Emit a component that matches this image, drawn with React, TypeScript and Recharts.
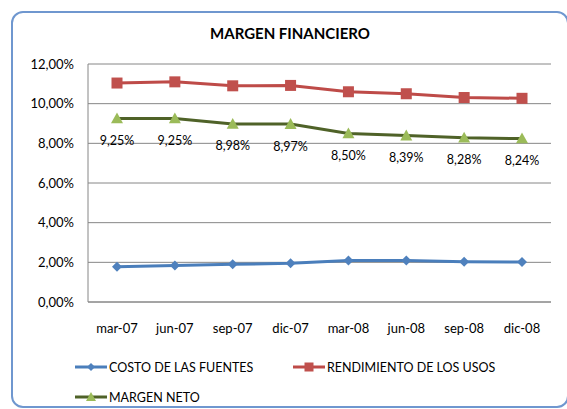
import { LineChart, Line, XAxis, YAxis, CartesianGrid, Legend, LabelList } from 'recharts';

const categories = ['mar-07', 'jun-07', 'sep-07', 'dic-07', 'mar-08', 'jun-08', 'sep-08', 'dic-08'];
const costoFuentes = [1.78, 1.84, 1.9, 1.95, 2.09, 2.09, 2.03, 2.02];
const rendimientoUsos = [11.04, 11.1, 10.9, 10.92, 10.6, 10.5, 10.31, 10.27];
const margenNeto = [9.25, 9.25, 8.98, 8.97, 8.5, 8.39, 8.28, 8.24];
const yTicks = [0, 2, 4, 6, 8, 10, 12];

const data = categories.map((c, i) => ({
  mes: c,
  costo: costoFuentes[i],
  rendimiento: rendimientoUsos[i],
  margen: margenNeto[i],
}));

const FONT = 'Lato, "Open Sans", sans-serif';
const pct = (v: number) => v.toFixed(2).replace('.', ',') + '%';

const Diamond = ({ cx, cy, s = 5, fill = '#4f81bd' }: any) => (
  <path d={`M${cx},${cy - s}L${cx + s},${cy}L${cx},${cy + s}L${cx - s},${cy}Z`} fill={fill} />
);
const Square = ({ cx, cy, s = 5.5, fill = '#c0504d' }: any) => (
  <rect x={cx - s} y={cy - s} width={s * 2} height={s * 2} fill={fill} />
);
const Triangle = ({ cx, cy, s = 6, fill = '#9bbb59' }: any) => (
  <path d={`M${cx},${cy - s}L${cx + s},${cy + s * 0.8}L${cx - s},${cy + s * 0.8}Z`} fill={fill} />
);

const legendItems = [
  { label: 'COSTO DE LAS FUENTES', color: '#4a7ebb', Mark: Diamond, ms: 4, left: 75, top: 0 },
  { label: 'RENDIMIENTO DE LOS USOS', color: '#be4b48', Mark: Square, ms: 4.5, left: 293, top: 0 },
  { label: 'MARGEN NETO', color: '#4f6228', Mark: Triangle, ms: 5, left: 75, top: 30 },
];

const renderLegend = () => (
  <div style={{ position: 'relative', height: 60, fontFamily: FONT }}>
    {legendItems.map((it) => (
      <div
        key={it.label}
        style={{ position: 'absolute', left: it.left, top: it.top + 10, height: 30, display: 'flex', alignItems: 'center' }}
      >
        <svg width={32} height={14}>
          <line x1={0} y1={7} x2={32} y2={7} stroke={it.color} strokeWidth={3} />
          <it.Mark cx={16} cy={7} s={it.ms} />
        </svg>
        <span style={{ marginLeft: 2, fontSize: 12.5, color: '#000' }}>{it.label}</span>
      </div>
    ))}
  </div>
);

const renderMargenLabel = (props: any) => {
  const { x, y, value } = props;
  return (
    <text x={x} y={y + 22} textAnchor="middle" dominantBaseline="central" fontSize={12.5} fontFamily={FONT} fill="#000">
      {pct(value)}
    </text>
  );
};

export default function App() {
  return (
    <div style={{ position: 'absolute', left: 0, top: 0, width: 567, height: 409, background: '#fff', overflow: 'hidden' }}>
      <div
        style={{
          position: 'absolute',
          left: 11,
          top: 11,
          width: 558,
          height: 397,
          boxSizing: 'border-box',
          border: '2px solid #6f97cf',
          borderRadius: 12,
        }}
      />
      <div
        style={{
          position: 'absolute',
          left: 0,
          width: 580,
          top: 24,
          textAlign: 'center',
          fontFamily: FONT,
          fontWeight: 'bold',
          fontSize: 15,
          color: '#000',
        }}
      >
        MARGEN FINANCIERO
      </div>
      <div style={{ position: 'absolute', left: 0, top: 0 }}>
        <LineChart width={567} height={409} data={data} margin={{ top: 64, right: 16, left: 0, bottom: 7 }}>
          <CartesianGrid vertical={false} stroke="#868686" />
          <XAxis
            dataKey="mes"
            height={40}
            padding={{ left: 29, right: 29 }}
            axisLine={{ stroke: '#868686' }}
            tickLine={false}
            tickMargin={16}
            tick={{ fontSize: 13, fontFamily: FONT, fill: '#000' }}
            interval={0}
          />
          <YAxis
            width={88}
            domain={[0, 12]}
            ticks={yTicks}
            tickFormatter={pct}
            axisLine={{ stroke: '#868686' }}
            tickLine={false}
            tickMargin={8}
            tick={{ fontSize: 13, fontFamily: FONT, fill: '#000' }}
          />
          <Legend verticalAlign="bottom" content={renderLegend} wrapperStyle={{ left: 0, width: 567 }} />
          <Line
            dataKey="costo"
            name="COSTO DE LAS FUENTES"
            stroke="#4a7ebb"
            strokeWidth={3}
            dot={(p: any) => <Diamond key={p.index} cx={p.cx} cy={p.cy} />}
            activeDot={false}
            isAnimationActive={false}
          />
          <Line
            dataKey="rendimiento"
            name="RENDIMIENTO DE LOS USOS"
            stroke="#be4b48"
            strokeWidth={3}
            dot={(p: any) => <Square key={p.index} cx={p.cx} cy={p.cy} />}
            activeDot={false}
            isAnimationActive={false}
          />
          <Line
            dataKey="margen"
            name="MARGEN NETO"
            stroke="#4f6228"
            strokeWidth={3}
            dot={(p: any) => <Triangle key={p.index} cx={p.cx} cy={p.cy} />}
            activeDot={false}
            isAnimationActive={false}
          >
            <LabelList dataKey="margen" content={renderMargenLabel} />
          </Line>
        </LineChart>
      </div>
    </div>
  );
}
